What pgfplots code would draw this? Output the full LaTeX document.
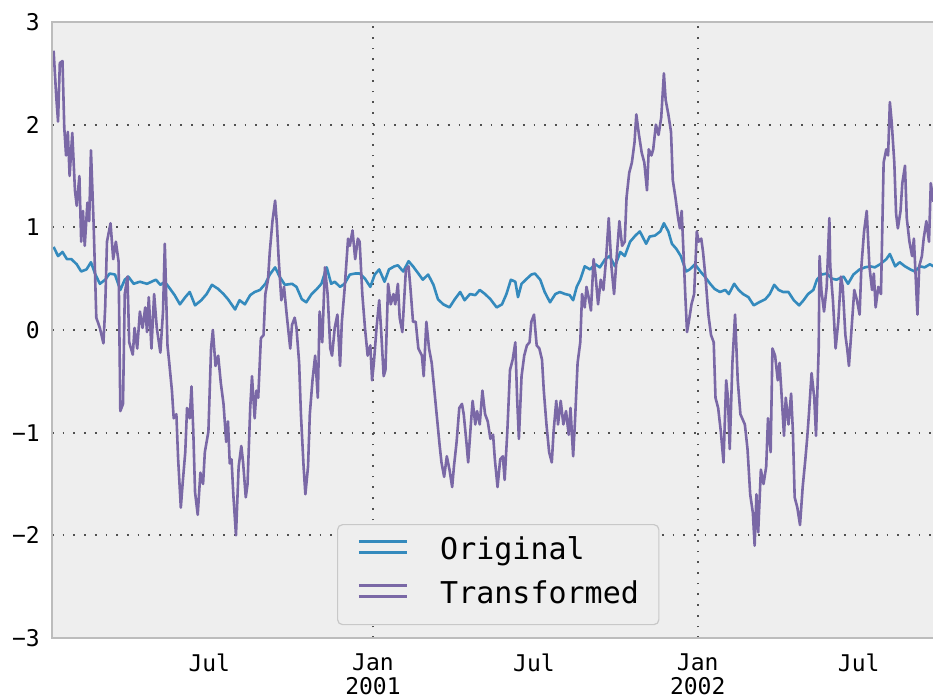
\documentclass[border=0pt]{standalone}
\usepackage{pgfplots}
\usepackage{pgfplotstable}
\pgfplotsset{compat=1.18}
\usepackage{fontspec}
\setmainfont{DejaVu Sans Mono}
\definecolor{bgc}{HTML}{EEEEEE}
\definecolor{framec}{HTML}{BCBCBC}
\definecolor{gridc}{HTML}{505050}
\definecolor{origc}{HTML}{348ABD}
\definecolor{transc}{HTML}{7A68A6}
\definecolor{legc}{HTML}{C8C8C8}

% x = days since 2000-01-01
\pgfplotstableread{
day val
7 0.81
12 0.72
17 0.76
22 0.69
27 0.69
33 0.64
38 0.57
44 0.59
49 0.66
54 0.54
59 0.45
65 0.49
70 0.55
76 0.54
82 0.39
87 0.49
91 0.52
97 0.45
104 0.47
112 0.45
117 0.47
122 0.49
127 0.44
132 0.47
138 0.40
143 0.34
149 0.25
155 0.32
160 0.37
166 0.24
173 0.29
179 0.35
185 0.44
192 0.40
198 0.35
203 0.30
211 0.20
216 0.29
222 0.25
228 0.34
233 0.37
239 0.39
245 0.45
250 0.54
256 0.61
261 0.52
267 0.44
275 0.45
280 0.42
286 0.30
291 0.27
297 0.35
303 0.40
308 0.45
314 0.61
319 0.45
323 0.47
329 0.42
334 0.45
340 0.54
346 0.55
351 0.55
357 0.50
363 0.42
368 0.54
373 0.59
379 0.47
384 0.59
390 0.62
394 0.63
400 0.57
406 0.67
411 0.62
417 0.55
422 0.49
428 0.54
434 0.44
439 0.30
445 0.25
452 0.22
458 0.30
464 0.37
469 0.29
475 0.35
481 0.34
486 0.39
492 0.35
498 0.30
505 0.22
511 0.25
516 0.35
521 0.49
526 0.47
529 0.32
533 0.45
539 0.50
544 0.54
548 0.55
554 0.49
559 0.37
565 0.27
571 0.35
576 0.37
582 0.35
587 0.34
591 0.29
595 0.42
599 0.49
604 0.62
610 0.59
616 0.64
621 0.61
627 0.69
632 0.72
638 0.62
644 0.76
649 0.72
655 0.86
661 0.92
666 0.96
673 0.84
677 0.91
683 0.92
689 0.96
693 1.04
698 0.96
702 0.84
707 0.79
712 0.72
718 0.57
722 0.59
728 0.64
734 0.57
739 0.52
745 0.45
750 0.40
756 0.37
762 0.39
766 0.35
772 0.45
777 0.39
782 0.35
788 0.32
794 0.24
800 0.27
807 0.30
812 0.35
817 0.44
822 0.39
827 0.37
833 0.37
839 0.29
845 0.24
850 0.29
855 0.35
861 0.39
865 0.49
870 0.54
876 0.55
882 0.50
887 0.49
895 0.52
900 0.45
906 0.54
913 0.59
919 0.61
925 0.62
930 0.61
936 0.64
943 0.69
947 0.74
953 0.62
958 0.66
964 0.62
970 0.59
975 0.57
981 0.62
986 0.61
992 0.64
996 0.62
}\origdata

\pgfplotstableread{
day val
7 2.72
10 2.27
12 2.03
14 2.60
17 2.62
19 1.97
21 1.70
23 1.93
25 1.50
28 1.92
31 1.36
33 1.21
36 1.50
38 0.86
40 1.16
42 0.82
45 1.24
47 1.06
49 1.75
52 1.03
55 0.12
59 0.02
63 -0.13
65 0.22
67 0.86
71 1.04
74 0.69
77 0.86
80 0.67
82 -0.79
85 -0.72
87 0.35
90 0.52
92 -0.12
96 -0.24
98 0.02
101 -0.18
104 0.18
107 0.02
110 0.22
112 -0.02
114 0.32
117 -0.18
120 0.35
123 0.02
127 -0.22
130 0.18
132 0.84
135 -0.15
137 -0.32
140 -0.59
142 -0.86
145 -0.82
147 -1.26
150 -1.73
152 -1.50
155 -1.19
157 -0.76
160 -0.86
162 -0.55
164 -0.98
166 -1.58
169 -1.80
172 -1.39
175 -1.50
177 -1.19
181 -0.99
184 -0.18
186 0.00
189 -0.35
192 -0.25
195 -0.52
198 -0.72
201 -1.09
203 -0.89
205 -1.30
207 -1.26
209 -1.60
212 -2.00
215 -1.33
218 -1.13
220 -1.29
223 -1.63
225 -1.50
228 -0.76
230 -0.45
233 -0.86
235 -0.59
237 -0.66
240 -0.08
243 -0.05
245 0.35
248 0.49
250 0.76
253 1.06
256 1.26
258 1.03
260 0.69
263 0.29
266 0.42
269 0.15
273 -0.18
275 0.05
278 0.12
280 0.02
283 -0.32
285 -0.82
288 -1.33
290 -1.60
293 -1.33
295 -0.82
298 -0.49
301 -0.25
304 -0.66
306 0.18
309 -0.12
312 0.61
315 0.35
318 -0.18
320 -0.25
323 0.02
326 0.15
329 -0.35
331 0.08
334 0.39
338 0.89
340 0.82
343 0.97
346 0.69
349 0.89
351 0.86
354 0.35
357 0.02
360 -0.25
363 -0.15
365 -0.49
367 -0.32
370 0.02
373 0.29
375 0.02
378 -0.45
380 -0.39
383 0.45
386 0.25
389 0.35
391 0.25
394 0.45
396 0.12
399 -0.02
403 0.59
406 0.62
408 0.42
411 0.08
414 0.08
417 -0.18
421 -0.25
423 -0.45
426 0.08
429 -0.18
432 -0.32
435 -0.59
438 -0.86
441 -1.13
443 -1.29
446 -1.43
449 -1.23
452 -1.36
455 -1.53
457 -1.33
460 -1.09
463 -0.76
466 -0.72
468 -0.82
471 -1.09
473 -1.29
476 -0.92
478 -0.69
481 -0.92
483 -0.79
486 -0.92
489 -0.59
492 -0.82
495 -0.89
498 -1.06
501 -1.02
503 -1.26
506 -1.53
509 -1.26
512 -1.23
514 -1.46
517 -0.99
520 -0.39
523 -0.29
526 -0.12
528 -0.66
530 -1.06
533 -0.45
536 -0.25
539 -0.15
542 -0.12
544 0.08
547 0.15
550 -0.15
553 -0.18
556 -0.29
558 -0.59
561 -0.92
564 -1.19
567 -1.29
569 -0.99
572 -0.69
574 -0.92
577 -0.69
580 -0.92
583 -0.79
586 -1.02
588 -0.76
591 -1.23
593 -0.90
596 -0.32
599 -0.12
601 0.35
604 0.22
606 0.42
609 0.29
611 0.19
614 0.69
616 0.55
619 0.25
622 0.49
625 0.39
628 0.69
631 1.09
634 0.62
637 0.35
640 0.72
643 1.06
646 0.82
649 0.86
651 1.29
654 1.53
657 1.63
660 1.83
662 2.10
665 1.90
668 1.73
671 1.63
674 1.36
676 1.76
679 1.70
681 1.76
684 2.00
687 1.90
690 2.07
693 2.50
695 2.24
698 2.10
701 1.93
703 1.46
706 1.29
709 1.09
711 0.99
713 1.16
715 0.76
717 0.35
719 -0.02
721 0.08
724 0.25
727 0.35
730 0.96
732 0.86
735 0.89
737 0.76
740 0.49
743 0.15
746 -0.05
749 -0.12
751 -0.66
754 -0.76
757 -0.99
760 -1.29
763 -0.49
765 -0.66
767 -1.16
770 -0.32
773 0.15
776 -0.49
779 -0.82
781 -0.86
784 -0.92
787 -1.16
790 -1.60
793 -1.78
795 -2.10
797 -1.60
799 -1.97
802 -1.36
805 -1.50
808 -1.33
810 -0.86
813 -1.19
815 -0.18
818 -0.25
821 -0.49
823 -0.32
825 -0.59
828 -1.03
830 -0.66
833 -0.92
836 -0.62
838 -0.99
840 -1.63
843 -1.73
846 -1.90
849 -1.53
852 -1.26
854 -1.06
856 -0.82
859 -0.42
862 -0.66
864 -1.03
867 -0.18
868 0.72
870 0.39
873 0.18
876 0.42
879 1.09
880 0.62
883 0.29
886 -0.18
889 0.08
892 0.52
894 0.42
897 -0.05
899 -0.18
901 -0.35
904 0.02
907 0.39
910 0.29
913 0.15
915 0.62
918 0.96
921 1.16
924 0.62
927 0.39
929 0.55
931 0.22
934 0.42
937 0.35
940 1.63
943 1.76
945 1.70
947 2.22
949 2.03
952 1.63
954 1.13
956 0.99
959 1.16
961 1.43
964 1.60
966 1.09
969 0.86
972 0.72
974 0.89
976 0.52
978 0.15
980 0.62
983 0.72
985 0.89
988 1.06
991 0.86
993 1.43
996 1.25
}\transdata

\begin{document}
\begin{tikzpicture}
\begin{axis}[
  at={(0pt,0pt)}, anchor=south west,
  scale only axis, width=881pt, height=616pt,
  xmin=5.2, xmax=995.5, ymin=-3, ymax=3,
  axis background/.style={fill=bgc},
  axis line style={draw=none},
  xtick={182,366,547,731,912},
  xticklabels={Jul,{Jan\\2001},Jul,{Jan\\2002},Jul},
  ytick={-3,-2,-1,0,1,2,3},
  yticklabels={−3,−2,−1,0,1,2,3},
  major tick length=0pt, minor tick length=0pt,
  xticklabel style={font=\fontsize{23}{24}\selectfont, align=center, anchor=north, inner sep=0pt, yshift=-16pt},
  yticklabel style={font=\fontsize{23}{26}\selectfont, anchor=east, inner sep=0pt, xshift=-12pt},
  ymajorgrids,
  grid style={gridc, line width=1.7pt, dash pattern=on 1.7pt off 9pt},
  extra x ticks={366,731}, extra x tick labels={},
  extra x tick style={grid=major, major tick length=0pt},
  legend style={at={(rel axis cs:0.3235,0.185)}, anchor=north west,
    draw=legc, line width=1.2pt, fill=bgc, rounded corners=5pt,
    font=\fontsize{30}{36}\selectfont,
    inner xsep=20pt, inner ysep=13pt, row sep=14pt, column sep=32pt,
    nodes={inner sep=0pt, text height=22pt, text depth=8pt},
    cells={anchor=west}},
  legend image code/.code={\path (0pt,0pt) -- (48pt,0pt);
    \draw[#1, line width=2.4pt, sharp corners] (0pt,11pt) -- (48pt,11pt);},
]
\addplot[origc, line width=2.6pt, line join=round] table[x=day, y=val] {\origdata};
\addlegendentry{Original}
\addplot[transc, line width=2.6pt, line join=round] table[x=day, y=val] {\transdata};
\addlegendentry{Transformed}
\end{axis}
\draw[framec, line width=2pt] (current axis.north east) -- (current axis.north west) -- (current axis.south west) -- (current axis.south east);
\pgfresetboundingbox
\path (-52pt,-62pt) rectangle (881pt,638pt);
\end{tikzpicture}
\end{document}
